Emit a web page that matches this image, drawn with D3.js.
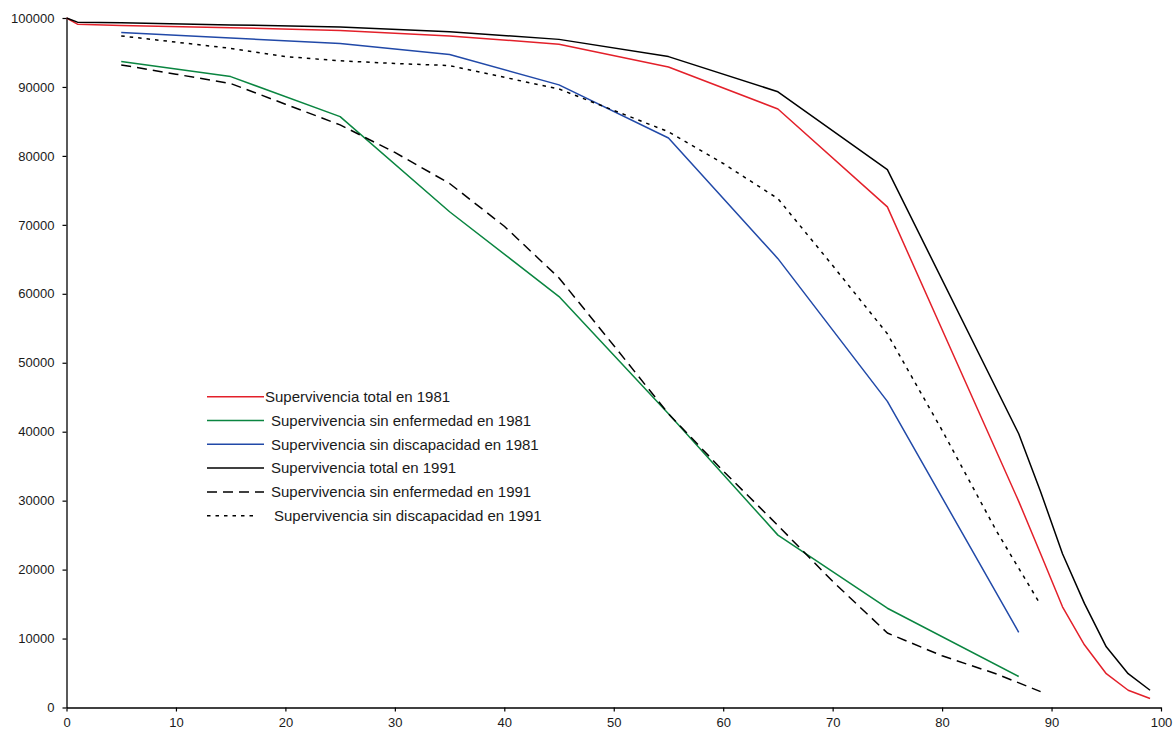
<!DOCTYPE html>
<html>
<head>
<meta charset="utf-8">
<script src="https://d3js.org/d3.v7.min.js"></script>
<style>
  body { margin: 0; background: #fff; }
  svg { display: block; font-family: "Liberation Sans", Arial, sans-serif; }
</style>
</head>
<body>
<svg id="chart" width="1175" height="731"></svg>
<script>
// edades (eje x)
var edadesTotal = [0, 1, 5, 15, 25, 35, 45, 55, 65, 75, 87, 89, 91, 93, 95, 97, 99];
var edades1981 = [5, 15, 25, 35, 45, 55, 65, 75, 87];
var edades1991 = [5, 10, 15, 20, 25, 30, 35, 40, 45, 50, 55, 60, 65, 70, 75, 80, 85, 89];

// supervivientes
var total1981 = [100000, 99100, 98900, 98600, 98200, 97400, 96200, 92900, 86800, 72600, 29900, 22300, 14600, 9100, 4900, 2500, 1300];
var sinEnf1981 = [93700, 91500, 85700, 71900, 59600, 42600, 25000, 14400, 4500];
var sinDisc1981 = [97900, 97100, 96300, 94700, 90300, 82600, 65100, 44400, 10900];
var total1991 = [100000, 99400, 99300, 99000, 98700, 98000, 96900, 94400, 89300, 78000, 39700, 31300, 22300, 15100, 8800, 4900, 2500];
var sinEnf1991 = [93200, 91850, 90500, 87500, 84500, 80500, 76000, 69800, 62300, 52500, 42600, 34300, 26400, 18300, 10800, 7500, 4850, 2300];
var sinDisc1991 = [97400, 96500, 95600, 94400, 93800, 93400, 93100, 91400, 89700, 86600, 83500, 78900, 73800, 64100, 54200, 40200, 25500, 14900];

var xTicks = [0, 10, 20, 30, 40, 50, 60, 70, 80, 90, 100];
var yTicks = [0, 10000, 20000, 30000, 40000, 50000, 60000, 70000, 80000, 90000, 100000];

var series = [
  { name: "Supervivencia total en 1981", x: edadesTotal, y: total1981, color: "#e3202a", dash: null, tx: 265 },
  { name: "Supervivencia sin enfermedad en 1981", x: edades1981, y: sinEnf1981, color: "#0a8540", dash: null, tx: 271 },
  { name: "Supervivencia sin discapacidad en 1981", x: edades1981, y: sinDisc1981, color: "#2149a8", dash: null, tx: 271 },
  { name: "Supervivencia total en 1991", x: edadesTotal, y: total1991, color: "#000", dash: null, tx: 271 },
  { name: "Supervivencia sin enfermedad en 1991", x: edades1991, y: sinEnf1991, color: "#000", dash: "10,6", tx: 271 },
  { name: "Supervivencia sin discapacidad en 1991", x: edades1991, y: sinDisc1991, color: "#000", dash: "3.5,5", tx: 274 }
];

var svg = d3.select("#chart");
var x = d3.scaleLinear().domain([0, 100]).range([66.5, 1161]);
var y = d3.scaleLinear().domain([0, 100000]).range([707.5, 18]);

// ejes
var xAxis = svg.append("g")
  .attr("transform", "translate(0," + y(0) + ")")
  .call(d3.axisBottom(x).tickValues(xTicks).tickSize(4).tickPadding(6).tickSizeOuter(0));
var yAxis = svg.append("g")
  .attr("transform", "translate(" + x(0) + ",0)")
  .call(d3.axisLeft(y).tickValues(yTicks).tickFormat(d3.format("d")).tickSize(4).tickPadding(8).tickSizeOuter(0));

[xAxis, yAxis].forEach(function (g) {
  g.select(".domain").attr("stroke", "#000").attr("stroke-width", 1.3);
  g.selectAll(".tick line").attr("stroke", "#000").attr("stroke-width", 1.2);
  g.selectAll(".tick text").attr("fill", "#1a1a1a").style("font-size", "13px").style("font-family", "'Liberation Sans', Arial, sans-serif");
});

// lineas
var line = d3.line()
  .x(function (d) { return x(d[0]); })
  .y(function (d) { return y(d[1]); });

series.forEach(function (s) {
  var pts = s.x.map(function (a, i) { return [a, s.y[i]]; });
  svg.append("path")
    .datum(pts)
    .attr("d", line)
    .attr("fill", "none")
    .attr("stroke", s.color)
    .attr("stroke-width", 1.5)
    .attr("stroke-linejoin", "round")
    .attr("stroke-dasharray", s.dash);
});

// leyenda
var leg = svg.append("g");
series.forEach(function (s, i) {
  var ly = 396.7 + i * 23.8;
  leg.append("line")
    .attr("x1", 207).attr("x2", i == 5 ? 258 : 264)
    .attr("y1", ly).attr("y2", ly)
    .attr("stroke", s.color)
    .attr("stroke-width", 1.5)
    .attr("stroke-dasharray", s.dash);
  leg.append("text")
    .attr("x", s.tx).attr("y", ly + 5.3)
    .attr("fill", "#1a1a1a")
    .style("font-size", "15px")
    .text(s.name);
});
</script>
</body>
</html>
